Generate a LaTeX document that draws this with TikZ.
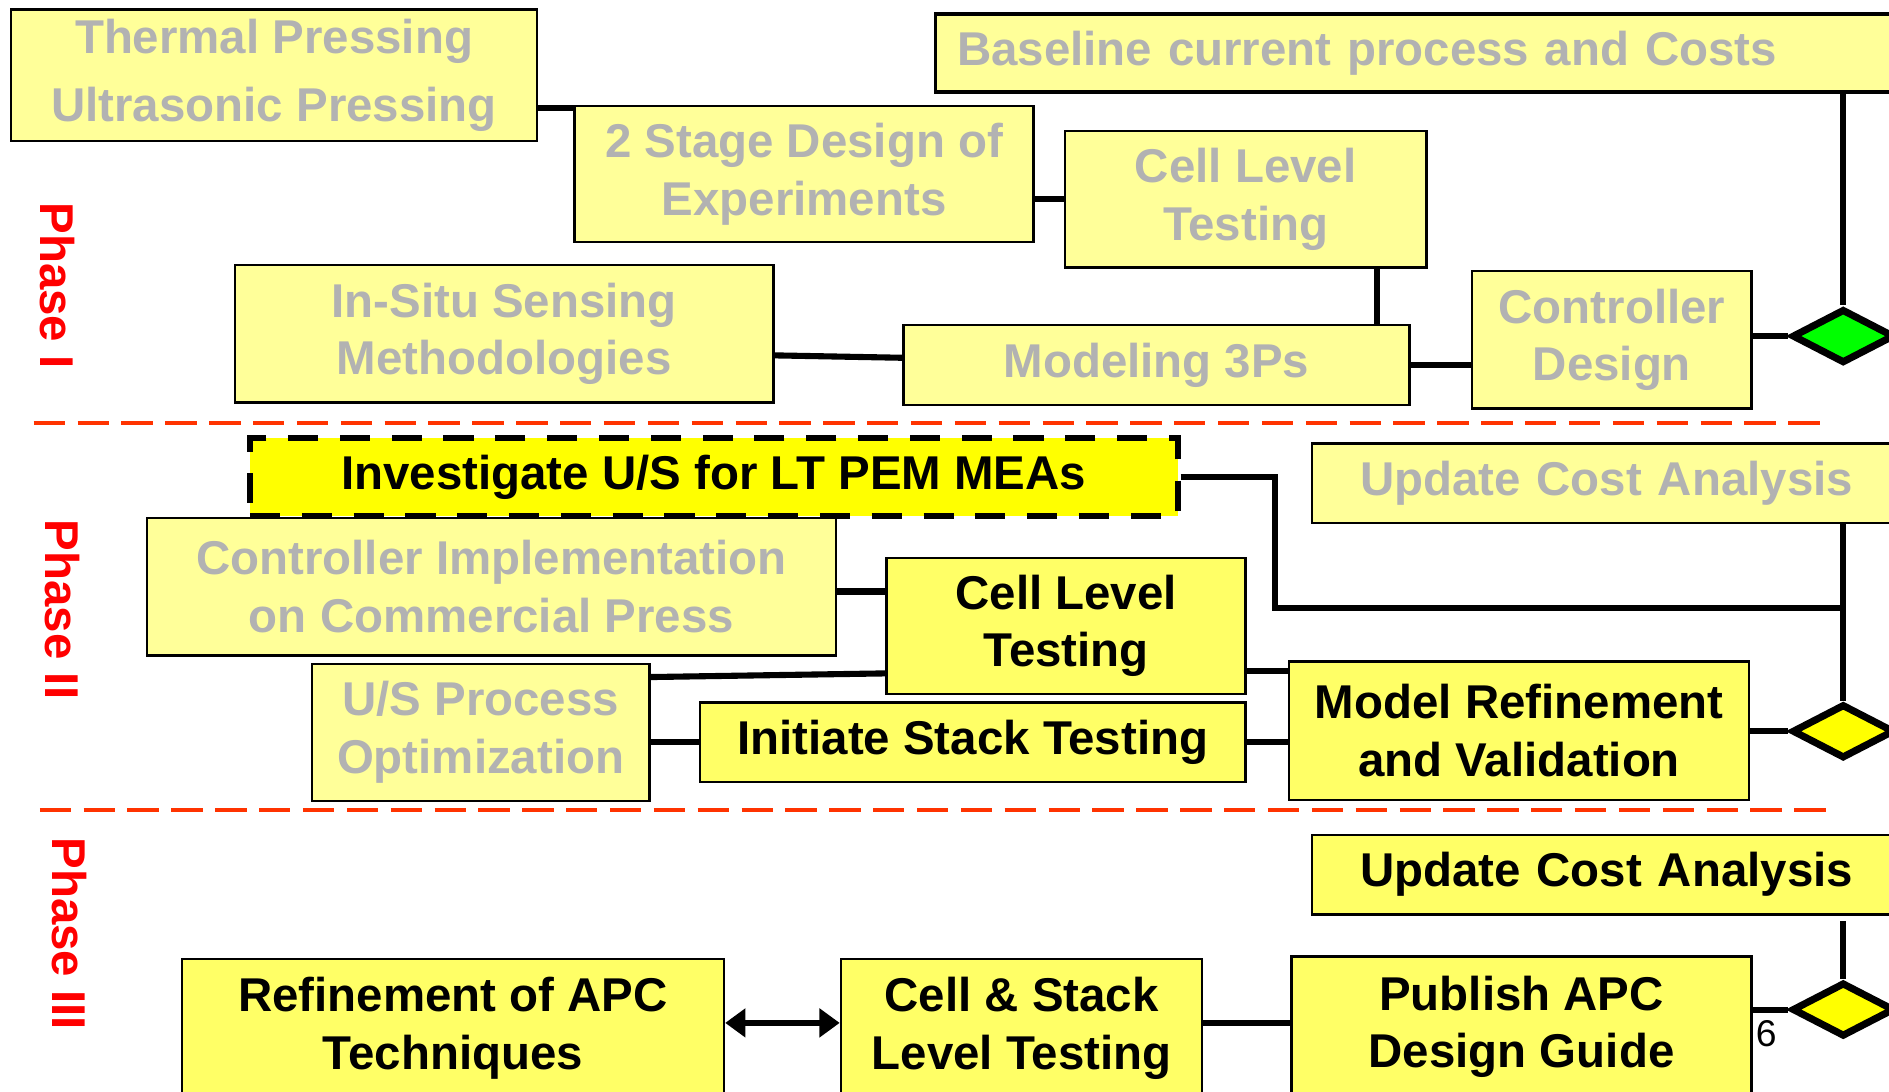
\documentclass[tikz,border=0pt]{standalone}
\usepackage{fontspec}
\setmainfont{Liberation Sans}
\usetikzlibrary{shapes.geometric, arrows.meta, math}
\definecolor{paleyellow}{HTML}{FFFF99}
\definecolor{liveyellow}{HTML}{FFFF66}
\definecolor{pureyellow}{HTML}{FFFF00}
\definecolor{fadegray}{HTML}{B2B2B2}
\definecolor{phasered}{HTML}{FF3300}
\definecolor{gategreen}{HTML}{00FF00}
\newcommand{\pxu}{0.025cm}
\newcommand{\boxfont}{\fontsize{28}{34}\selectfont\bfseries}

\begin{document}
\begin{tikzpicture}[x=0.025cm, y=-0.025cm,
    oldbox/.style={draw=black, line width=1.4pt, fill=paleyellow, text=fadegray, font=\boxfont, align=center, inner sep=0pt, anchor=north west},
    newbox/.style={oldbox, fill=liveyellow, text=black},
    link/.style={line width=3.6pt},
    twoway/.style={link, >={Triangle[length=0.42cm,width=0.58cm]}, <->},
    gate/.style={diamond, draw=black, line width=4.2pt, minimum width=85*\pxu, minimum height=45*\pxu, inner sep=0pt},
    phaseline/.style={draw=phasered, line width=2.4pt, dash pattern=on 0.65cm off 0.26cm},
    phaselabel/.style={text=red, rotate=-90, font=\boxfont}]
      \tikzmath{\gx = 1530; \edge = 1568; \bottom = 906;}
      \useasboundingbox (0,0) rectangle (\edge,\bottom);
      \clip (0,0) rectangle (\edge,\bottom);
      \fill[white] (0,0) rectangle (\edge,\bottom);

      % phase I
      \node[oldbox, minimum width=437*\pxu, minimum height=109*\pxu, font=\fontsize{28}{40}\selectfont\bfseries] (thermal) at (8,7) {Thermal Pressing\\Ultrasonic Pressing};
      \node[oldbox, line width=2.1pt, align=left, inner xsep=0.45cm, text width=19.85cm, minimum height=65*\pxu] (baseline) at (775,10) {Baseline current process and Costs};
      \node[oldbox, minimum width=381*\pxu, minimum height=113*\pxu] (stage2) at (476,87) {2 Stage Design of\\Experiments};
      \node[oldbox, minimum width=300*\pxu, minimum height=113*\pxu] (cell1) at (883,108) {Cell Level\\Testing};
      \node[oldbox, minimum width=447*\pxu, minimum height=114*\pxu] (insitu) at (194,219) {In-Situ Sensing\\Methodologies};
      \node[oldbox, minimum width=420*\pxu, minimum height=66*\pxu] (model3p) at (749,269) {Modeling 3Ps};
      \node[oldbox, minimum width=232*\pxu, minimum height=114*\pxu] (ctrl) at (1221,224) {Controller\\Design};
      \node[gate, fill=gategreen] (gate1) at (\gx,279) {};
      \coordinate (c1) at ([xshift=-1.05cm]cell1.south east);

      \draw[link] ([yshift=-0.07cm]thermal.east |- stage2.north west) -- ([yshift=-0.07cm]stage2.north west);
      \draw[link] (stage2.east |- cell1.west) -- (cell1.west);
      \draw[link] (c1) -- (c1 |- model3p.north);
      \draw[link] ([yshift=-0.45cm]insitu.east) -- ([yshift=0.15cm]model3p.west);
      \draw[link] (model3p.east) -- (model3p.east -| ctrl.west);
      \draw[link] (gate1.west -| ctrl.east) -- (gate1.west);
      \draw[link] (gate1.north |- baseline.south) -- (gate1.north);

      \draw[phaseline] (28,351) -- (1515,351);
      \node[phaselabel] (ph1) at (48,237) {Phase I};

      % phase II
      \node[oldbox, fill=pureyellow, text=black, line width=3.5pt, dash pattern=on 0.625cm off 0.45cm, minimum width=770*\pxu, minimum height=65*\pxu] (inv) at (205,361) {Investigate U/S for LT PEM MEAs};
      \node[oldbox, align=left, inner xsep=1cm, text width=11cm, minimum height=66*\pxu] (update1) at (1088,367) {Update Cost Analysis};
      \node[oldbox, minimum width=572*\pxu, minimum height=114*\pxu] (ctrlimpl) at (121,429) {Controller Implementation\\on Commercial Press};
      \node[newbox, minimum width=298*\pxu, minimum height=113*\pxu] (cell2) at (735,462) {Cell Level\\Testing};
      \node[oldbox, minimum width=280*\pxu, minimum height=114*\pxu] (usproc) at (258,550) {U/S Process\\Optimization};
      \node[newbox, minimum width=453*\pxu, minimum height=66*\pxu] (initiate) at (580,582) {Initiate Stack Testing};
      \node[newbox, minimum width=382*\pxu, minimum height=115*\pxu] (model) at (1069,548) {Model Refinement\\and Validation};
      \node[gate, fill=pureyellow] (gate2) at (\gx,607) {};
      \coordinate (bend2) at (1058,505);
      \coordinate (j2) at (1529,505);
      \coordinate (m1) at ([yshift=-0.225cm]model.north west);

      \draw[link] (inv.east) -| (bend2) -- (j2);
      \draw[link] (gate2.north |- update1.south) -- (gate2.north);
      \draw[link] ([yshift=-0.1cm]ctrlimpl.east) -- ([yshift=-0.1cm]ctrlimpl.east -| cell2.west);
      \draw[link] ([yshift=-0.3cm]usproc.north east) -- ([yshift=0.45cm]cell2.south west);
      \draw[link] (initiate.west -| usproc.east) -- (initiate.west);
      \draw[link] (cell2.east |- m1) -- (m1);
      \draw[link] (initiate.east) -- (initiate.east -| model.west);
      \draw[link] (gate2.west -| model.east) -- (gate2.west);

      \draw[phaseline] (33,672) -- (1520,672);
      \node[phaselabel] (ph2) at (52,506) {Phase II};

      % phase III
      \node[newbox, align=left, inner xsep=1cm, text width=11cm, minimum height=66*\pxu] (update2) at (1088,692) {Update Cost Analysis};
      \node[newbox, minimum width=450*\pxu, minimum height=115*\pxu] (refine) at (150,795) {Refinement of APC\\Techniques};
      \node[newbox, minimum width=300*\pxu, minimum height=115*\pxu] (cellstack) at (697,795) {Cell \& Stack\\Level Testing};
      \node[newbox, minimum width=382*\pxu, minimum height=117*\pxu] (publish) at (1071,793) {Publish APC\\Design Guide};
      \node[gate, fill=pureyellow] (gate3) at (\gx,838) {};
      \node[font=\fontsize{22}{26}\selectfont] (pnum) at (1466,858) {6};

      \draw[twoway] ([yshift=0.11cm]refine.east) -- ([yshift=0.11cm]cellstack.west);
      \draw[link] ([yshift=0.1cm]cellstack.east) -- ([yshift=0.1cm]cellstack.east -| publish.west);
      \draw[link] (gate3.west -| publish.east) -- (gate3.west);
      \draw[link, shorten <=0.12cm] (gate3.north |- update2.south) -- (gate3.north);

      \node[phaselabel] (ph3) at (58,775) {Phase III};
\end{tikzpicture}
\end{document}
